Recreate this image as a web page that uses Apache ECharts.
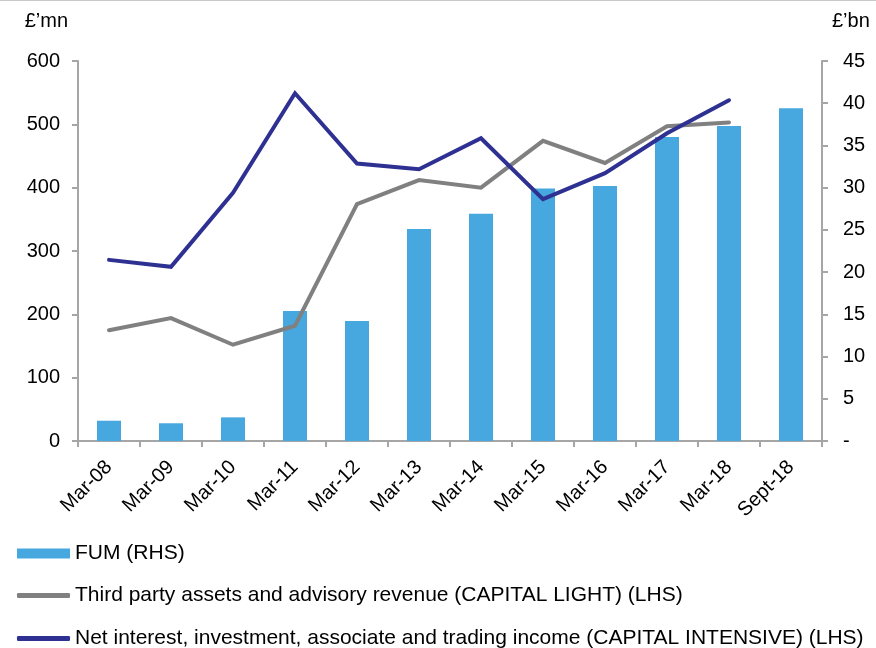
<!DOCTYPE html>
<html>
<head>
<meta charset="utf-8">
<style>
  html, body { margin: 0; padding: 0; background: #fff; }
  #chart { width: 876px; height: 648px; }
</style>
<script src="https://cdn.jsdelivr.net/npm/echarts@6/dist/echarts.min.js"></script>
</head>
<body>
<div id="chart"></div>
<script>
var categories = ['Mar-08', 'Mar-09', 'Mar-10', 'Mar-11', 'Mar-12', 'Mar-13', 'Mar-14', 'Mar-15', 'Mar-16', 'Mar-17', 'Mar-18', 'Sept-18'];
// FUM, £bn (right axis)
var fum = [2.4, 2.1, 2.8, 15.4, 14.2, 25.1, 26.9, 29.9, 30.2, 36.0, 37.3, 39.4];
// £mn (left axis)
var capitalLight = [175, 194, 152, 182, 374, 412, 400, 474, 439, 497, 503];
var capitalIntensive = [286, 275, 392, 549, 438, 429, 478, 382, 423, 486, 538];

var nameFum = 'FUM (RHS)'
var nameLight = 'Third party assets and advisory revenue (CAPITAL LIGHT) (LHS)'
var nameIntensive = 'Net interest, investment, associate and trading income (CAPITAL INTENSIVE) (LHS)'

var axisColor = '#a6a6a6'
var font = 'Liberation Sans, Arial, sans-serif'

var chart = echarts.init(document.getElementById('chart'))

function legendRow(name, top, icon, h) {
  return {
    orient: 'vertical',
    left: 17,
    top: top,
    padding: 0,
    icon: icon,
    itemWidth: 53,
    itemHeight: h,
    textStyle: { fontSize: 21, color: '#000', fontFamily: font },
    data: [name]
  }
}

chart.setOption({
  animation: false,
  textStyle: { fontFamily: font },
  graphic: [{
    type: 'line',
    shape: { x1: 0, y1: 0.5, x2: 876, y2: 0.5 },
    style: { stroke: '#c8c8c8', lineWidth: 1 }
  }],
  grid: {
    left: 78,
    right: 54,
    top: 61,
    bottom: 207
  },
  legend: [
    legendRow(nameFum, 543, 'rect', 10),
    legendRow(nameLight, 585, 'roundRect', 5),
    legendRow(nameIntensive, 628, 'roundRect', 5)
  ],
  xAxis: {
    type: 'category',
    data: categories,
    axisLine: { lineStyle: { color: axisColor, width: 2 } },
    axisTick: { show: true, length: 6, lineStyle: { color: axisColor, width: 2 } },
    axisLabel: { rotate: 45, fontSize: 20, color: '#000', margin: 23 }
  },
  yAxis: [{
    type: 'value',
    min: 0,
    max: 600,
    interval: 100,
    name: '£’mn',
    nameLocation: 'end',
    nameGap: 30,
    nameTextStyle: { fontSize: 20, color: '#000', align: 'right', padding: [0, 10, 0, 0] },
    splitLine: { show: false },
    axisLine: { show: true, lineStyle: { color: axisColor, width: 2 } },
    axisTick: { show: true, length: 6, lineStyle: { color: axisColor, width: 2 } },
    axisLabel: { fontSize: 20, color: '#000', margin: 18 }
  }, {
    type: 'value',
    min: 0,
    max: 45,
    interval: 5,
    name: '£’bn',
    nameLocation: 'end',
    nameGap: 30,
    nameTextStyle: { fontSize: 20, color: '#000', align: 'left', padding: [0, 0, 0, 10] },
    splitLine: { show: false },
    axisLine: { show: true, lineStyle: { color: axisColor, width: 2 } },
    axisTick: { show: true, length: 6, lineStyle: { color: axisColor, width: 2 } },
    axisLabel: {
      fontSize: 20,
      color: '#000',
      margin: 21,
      formatter: function (v) { return v === 0 ? '-' : v }
    }
  }],
  series: [{
    name: nameFum,
    type: 'bar',
    yAxisIndex: 1,
    data: fum,
    barWidth: 24,
    itemStyle: { color: '#47a8df' }
  }, {
    name: nameLight,
    type: 'line',
    data: capitalLight,
    symbol: 'none',
    lineStyle: { color: '#808080', width: 4, cap: 'round', join: 'miter' },
    itemStyle: { color: '#808080' }
  }, {
    name: nameIntensive,
    type: 'line',
    data: capitalIntensive,
    symbol: 'none',
    lineStyle: { color: '#2e3192', width: 4, cap: 'round', join: 'miter' },
    itemStyle: { color: '#2e3192' }
  }]
})
</script>
</body>
</html>
